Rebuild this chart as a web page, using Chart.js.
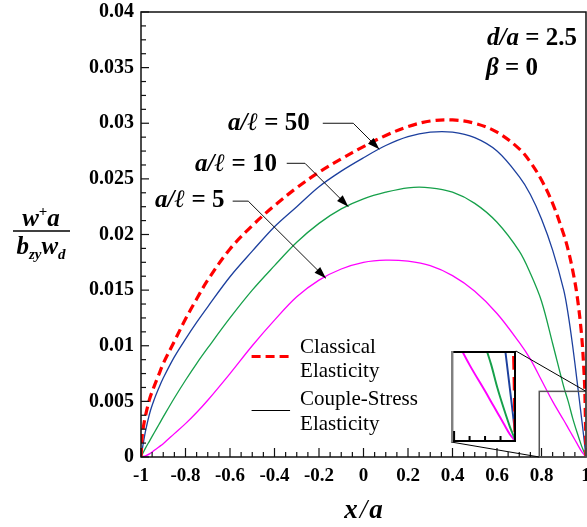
<!DOCTYPE html>
<html>
<head>
<meta charset="utf-8">
<script src="https://cdn.jsdelivr.net/npm/chart.js@4.4.0/dist/chart.umd.min.js"></script>
<style>
  html, body { margin: 0; padding: 0; background: #fff; }
  #wrap { position: relative; width: 587px; height: 527px; }
  #insetBox { position: absolute; background: #fff; }
  canvas { display: block; }
</style>
</head>
<body>
<div id="wrap">
  <canvas id="myChart" width="587" height="527"></canvas>
  <div id="insetBox"><canvas id="insetChart"></canvas></div>
</div>
<script>
// x/a positions shared by every curve
const xValues = [-1, -0.995, -0.99, -0.98, -0.96, -0.94, -0.92, -0.9, -0.85, -0.8, -0.75, -0.7, -0.6, -0.5, -0.4, -0.3, -0.2, -0.1,
    0, 0.1, 0.2, 0.3, 0.4, 0.5, 0.6, 0.7, 0.75, 0.8, 0.85, 0.9, 0.92, 0.94, 0.96, 0.98, 0.99, 0.995, 1];

// w+a / (b_zy w_d)
const classical = [0, 0.0018, 0.0026, 0.0037, 0.0053, 0.0064, 0.0074, 0.0084, 0.0104, 0.0124, 0.0142, 0.0159, 0.0187, 0.0208, 0.0226, 0.0242, 0.0256, 0.0268,
    0.0279, 0.0289, 0.0297, 0.0302, 0.0303, 0.0300, 0.0292, 0.0277, 0.0265, 0.0249, 0.0228, 0.0200, 0.0186, 0.0168, 0.0145, 0.0110, 0.0080, 0.0057, 0];
const ratio50 = [0, 0.0006, 0.0012, 0.0023, 0.0040, 0.0052, 0.0062, 0.0071, 0.0090, 0.0106, 0.0121, 0.0135, 0.0162, 0.0185, 0.0207, 0.0225, 0.0243, 0.0257,
    0.0269, 0.0280, 0.0288, 0.0292, 0.0292, 0.0287, 0.0275, 0.0252, 0.0236, 0.0214, 0.0186, 0.0150, 0.0128, 0.0100, 0.0068, 0.0035, 0.0018, 0.0009, 0];
const ratio10 = [0, 0.0002, 0.0004, 0.0008, 0.0015, 0.0022, 0.0029, 0.0036, 0.0053, 0.0069, 0.0084, 0.0098, 0.0125, 0.0150, 0.0172, 0.0193, 0.0210, 0.0223,
    0.0232, 0.0238, 0.0242, 0.0242, 0.0238, 0.0228, 0.0211, 0.0185, 0.0165, 0.0140, 0.0102, 0.0063, 0.0050, 0.0035, 0.0022, 0.0010, 0.0005, 0.00025, 0];
const ratio5 = [0, 0.00002, 0.00005, 0.0001, 0.0003, 0.0006, 0.0009, 0.0012, 0.0021, 0.0030, 0.0040, 0.0051, 0.0075, 0.0100, 0.0123, 0.0144, 0.0159, 0.0169,
    0.0175, 0.0177, 0.0176, 0.0172, 0.0163, 0.0149, 0.0129, 0.0103, 0.0088, 0.0069, 0.0050, 0.0033, 0.0026, 0.0019, 0.0012, 0.0005, 0.00025, 0.0001, 0];

// labelled ticks
const xTickLabels = [-1, -0.8, -0.6, -0.4, -0.2, 0, 0.2, 0.4, 0.6, 0.8, 1];
const yTickLabels = [0, 0.005, 0.01, 0.015, 0.02, 0.025, 0.03, 0.035, 0.04];
const insetTicks = [0.8, 0.85, 0.9, 0.95];

const SERIF = '"Liberation Serif", "Times New Roman", serif';

function isLabelled(v, list) {
    return list.some(t => Math.abs(t - v) < 1e-9);
}

function toPoints(ys) {
    return xValues.map((x, i) => ({ x: x, y: ys[i] }));
}

function makeDatasets(scale) {
    return [
        { label: 'Classical Elasticity', data: toPoints(classical), borderColor: '#ff0000',
          borderWidth: 3.2 * scale, borderDash: [9 * scale, 5 * scale] },
        { label: 'a/l = 50', data: toPoints(ratio50), borderColor: '#1c3f9e', borderWidth: 1.3 * scale },
        { label: 'a/l = 10', data: toPoints(ratio10), borderColor: '#16a04a', borderWidth: 1.3 * scale },
        { label: 'a/l = 5', data: toPoints(ratio5), borderColor: '#ff00ff', borderWidth: 1.3 * scale }
    ].map(d => Object.assign(d, { pointRadius: 0, fill: false, tension: 0.35 }));
}

// text made of pieces with different fonts
function drawRuns(ctx, x, y, runs, align) {
    let total = 0;
    runs.forEach(r => { ctx.font = r.font; total += ctx.measureText(r.text).width + (r.gap || 0); });
    let cx = align === 'center' ? x - total / 2 : x;
    ctx.textAlign = 'left';
    ctx.textBaseline = 'alphabetic';
    runs.forEach(r => {
        ctx.font = r.font;
        ctx.fillText(r.text, cx, y + (r.dy || 0));
        cx += ctx.measureText(r.text).width + (r.gap || 0);
    });
}

function arrow(ctx, xs, ys, pts) {
    const p = pts.map(([x, y]) => [xs.getPixelForValue(x), ys.getPixelForValue(y)]);
    ctx.beginPath();
    ctx.moveTo(p[0][0], p[0][1]);
    for (let i = 1; i < p.length; i++) ctx.lineTo(p[i][0], p[i][1]);
    ctx.stroke();
    const [x1, y1] = p[p.length - 2];
    const [x2, y2] = p[p.length - 1];
    const ang = Math.atan2(y2 - y1, x2 - x1);
    ctx.beginPath();
    ctx.moveTo(x2, y2);
    ctx.lineTo(x2 - 12 * Math.cos(ang) + 4 * Math.sin(ang), y2 - 12 * Math.sin(ang) - 4 * Math.cos(ang));
    ctx.lineTo(x2 - 12 * Math.cos(ang) - 4 * Math.sin(ang), y2 - 12 * Math.sin(ang) + 4 * Math.cos(ang));
    ctx.closePath();
    ctx.fill();
}

// where the magnified view sits (in main-plot units) and what it shows
const insetPlace = { x0: 0.393, x1: 0.685, y0: 0.00135, y1: 0.00953 };
const insetView = { x0: 0.79, x1: 1.0, y0: 0, y1: 0.0059 };

const labels = [
    { text: ' = 50', at: [-0.609, 0.0294], leader: [[-0.183, 0.0300], [-0.046, 0.0300], [0.071, 0.02766]] },
    { text: ' = 10', at: [-0.757, 0.0257], leader: [[-0.345, 0.0264], [-0.263, 0.0264], [-0.068, 0.0225]] },
    { text: ' = 5', at: [-0.937, 0.02244], leader: [[-0.588, 0.0230], [-0.518, 0.0230], [-0.169, 0.01606]] }
];

const decorations = {
    id: 'decorations',
    afterDraw(chart) {
        const { ctx, chartArea: a, scales } = chart;
        const xs = scales.x, ys = scales.y;
        ctx.save();
        ctx.strokeStyle = '#111';
        ctx.fillStyle = '#000';

        // frame
        ctx.lineWidth = 1.5;
        ctx.strokeRect(a.left, a.top, a.right - a.left, a.bottom - a.top);

        // inward ticks
        ctx.lineWidth = 1.2;
        xs.ticks.forEach(t => {
            const px = xs.getPixelForValue(t.value);
            const len = isLabelled(t.value, xTickLabels) ? 9 : 5;
            ctx.beginPath(); ctx.moveTo(px, a.bottom); ctx.lineTo(px, a.bottom - len); ctx.stroke();
        });
        ys.ticks.forEach(t => {
            const py = ys.getPixelForValue(t.value);
            const len = isLabelled(t.value, yTickLabels) ? 8 : 5;
            ctx.beginPath(); ctx.moveTo(a.left, py); ctx.lineTo(a.left + len, py); ctx.stroke();
        });

        // curve labels with leaders
        ctx.lineWidth = 1;
        labels.forEach(l => {
            drawRuns(ctx, xs.getPixelForValue(l.at[0]), ys.getPixelForValue(l.at[1]), [
                { text: 'a/ℓ', font: 'italic bold 25px ' + SERIF },
                { text: l.text, font: 'bold 25px ' + SERIF }
            ]);
            arrow(ctx, xs, ys, l.leader);
        });

        // parameters
        drawRuns(ctx, 487, 45, [
            { text: 'd/a', font: 'italic bold 25px ' + SERIF },
            { text: ' = 2.5', font: 'bold 25px ' + SERIF }
        ]);
        drawRuns(ctx, 486, 75, [
            { text: 'β', font: 'italic bold 25px ' + SERIF },
            { text: ' = 0', font: 'bold 25px ' + SERIF }
        ]);

        // legend
        const lx0 = xs.getPixelForValue(-0.503), lx1 = xs.getPixelForValue(-0.33), tx = xs.getPixelForValue(-0.285);
        ctx.strokeStyle = '#ff0000';
        ctx.lineWidth = 3.2;
        ctx.setLineDash([9, 5]);
        ctx.beginPath(); ctx.moveTo(lx0, 356.5); ctx.lineTo(lx1, 356.5); ctx.stroke();
        ctx.setLineDash([]);
        ctx.strokeStyle = '#000';
        ctx.lineWidth = 1;
        ctx.beginPath(); ctx.moveTo(lx0, 410.5); ctx.lineTo(lx1, 410.5); ctx.stroke();
        ctx.font = '21px ' + SERIF;
        ctx.textAlign = 'left';
        ctx.fillText('Classical', tx, 353);
        ctx.fillText('Elasticity', tx, 377);
        ctx.fillText('Couple-Stress', tx, 405);
        ctx.fillText('Elasticity', tx, 430);

        // zoom window and its connectors
        const r0 = xs.getPixelForValue(insetView.x0), r1 = xs.getPixelForValue(insetView.x1);
        const rt = ys.getPixelForValue(insetView.y1), rb = ys.getPixelForValue(insetView.y0);
        ctx.strokeStyle = '#555';
        ctx.lineWidth = 1.5;
        ctx.strokeRect(r0, rt, r1 - r0, rb - rt);
        ctx.strokeStyle = '#000';
        ctx.lineWidth = 1;
        ctx.beginPath();
        ctx.moveTo(xs.getPixelForValue(insetPlace.x1), ys.getPixelForValue(insetPlace.y1));
        ctx.lineTo(r1, rt);
        ctx.moveTo(xs.getPixelForValue(insetPlace.x0), ys.getPixelForValue(insetPlace.y0));
        ctx.lineTo(r0, rb);
        ctx.stroke();

        // axis titles
        ctx.fillStyle = '#000';
        drawRuns(ctx, 41, 226, [
            { text: 'w', font: 'italic bold 25px ' + SERIF },
            { text: '+', font: 'bold 15px ' + SERIF, dy: -10 },
            { text: 'a', font: 'italic bold 25px ' + SERIF }
        ], 'center');
        ctx.lineWidth = 1.5;
        ctx.beginPath(); ctx.moveTo(13, 231); ctx.lineTo(70, 231); ctx.stroke();
        drawRuns(ctx, 41, 254, [
            { text: 'b', font: 'italic bold 25px ' + SERIF },
            { text: 'zy', font: 'italic bold 15px ' + SERIF, dy: 5 },
            { text: 'w', font: 'italic bold 25px ' + SERIF },
            { text: 'd', font: 'italic bold 15px ' + SERIF, dy: 5 }
        ], 'center');
        drawRuns(ctx, (a.left + a.right) / 2, 518, [
            { text: 'x', font: 'italic bold 27px ' + SERIF, gap: 2 },
            { text: '/', font: 'italic 27px ' + SERIF, gap: 2 },
            { text: 'a', font: 'italic bold 27px ' + SERIF }
        ], 'center');
        ctx.restore();
    }
};

const tickFont = size => ({ family: SERIF, weight: 'bold', size: size });

// keep tick labels from shrinking the plot box
function noOverhang(s) {
    s.paddingLeft = 0; s.paddingRight = 0; s.paddingTop = 0; s.paddingBottom = 0;
}

const mainChart = new Chart(document.getElementById('myChart'), {
    type: 'line',
    data: { datasets: makeDatasets(1) },
    options: {
        responsive: false,
        animation: false,
        devicePixelRatio: 1,
        layout: { autoPadding: false, padding: { top: 12, right: 1, left: 0, bottom: 0 } },
        plugins: { legend: { display: false }, tooltip: { enabled: false } },
        scales: {
            x: {
                type: 'linear', min: -1, max: 1,
                grid: { drawOnChartArea: false, drawTicks: false },
                border: { display: false },
                ticks: {
                    stepSize: 0.05, autoSkip: false, maxRotation: 0, padding: 8, color: '#000', font: tickFont(19),
                    callback: v => isLabelled(v, xTickLabels) ? String(Math.round(v * 10) / 10) : ''
                },
                afterFit: s => { s.height = 70; noOverhang(s); }
            },
            y: {
                type: 'linear', min: 0, max: 0.04,
                grid: { drawOnChartArea: false, drawTicks: false },
                border: { display: false },
                ticks: {
                    stepSize: 0.00125, autoSkip: false, padding: 7, color: '#000', font: tickFont(20),
                    callback: v => isLabelled(v, yTickLabels) ? String(parseFloat(v.toFixed(3))) : ''
                },
                afterFit: s => { s.width = 141; noOverhang(s); }
            }
        }
    },
    plugins: [decorations]
});

// magnified view near x/a = 1
const mx = mainChart.scales.x, my = mainChart.scales.y;
const boxLeft = Math.round(mx.getPixelForValue(insetPlace.x0));
const boxTop = Math.round(my.getPixelForValue(insetPlace.y1));
const boxW = Math.round(mx.getPixelForValue(insetPlace.x1)) - boxLeft;
const boxH = Math.round(my.getPixelForValue(insetPlace.y0)) - boxTop;
const box = document.getElementById('insetBox');
box.style.left = boxLeft + 'px';
box.style.top = boxTop + 'px';
const insetCanvas = document.getElementById('insetChart');
insetCanvas.width = boxW;
insetCanvas.height = boxH;

const insetFrame = {
    id: 'insetFrame',
    afterDraw(chart) {
        const { ctx, scales } = chart;
        const w = chart.width, h = chart.height;
        ctx.save();
        ctx.lineWidth = 2;
        ctx.strokeStyle = '#000';
        ctx.beginPath();
        ctx.moveTo(0, 1); ctx.lineTo(w - 1, 1); ctx.lineTo(w - 1, h - 1); ctx.lineTo(0, h - 1);
        ctx.stroke();
        ctx.strokeStyle = '#808080';
        ctx.lineWidth = 2.5;
        ctx.beginPath(); ctx.moveTo(1.2, 0); ctx.lineTo(1.2, h); ctx.stroke();
        ctx.strokeStyle = '#000';
        ctx.lineWidth = 2;
        insetTicks.forEach((t, i) => {
            const px = scales.x.getPixelForValue(t);
            ctx.beginPath(); ctx.moveTo(px, h); ctx.lineTo(px, h - (i === 0 ? 11 : 6)); ctx.stroke();
        });
        ctx.restore();
    }
};

new Chart(insetCanvas, {
    type: 'line',
    data: { datasets: makeDatasets(1.5) },
    options: {
        responsive: false,
        animation: false,
        devicePixelRatio: 1,
        layout: { autoPadding: false, padding: 0 },
        plugins: { legend: { display: false }, tooltip: { enabled: false } },
        scales: {
            x: { type: 'linear', display: false, min: insetView.x0, max: insetView.x1 },
            y: { type: 'linear', display: false, min: insetView.y0, max: insetView.y1 }
        }
    },
    plugins: [insetFrame]
});
</script>
</body>
</html>
